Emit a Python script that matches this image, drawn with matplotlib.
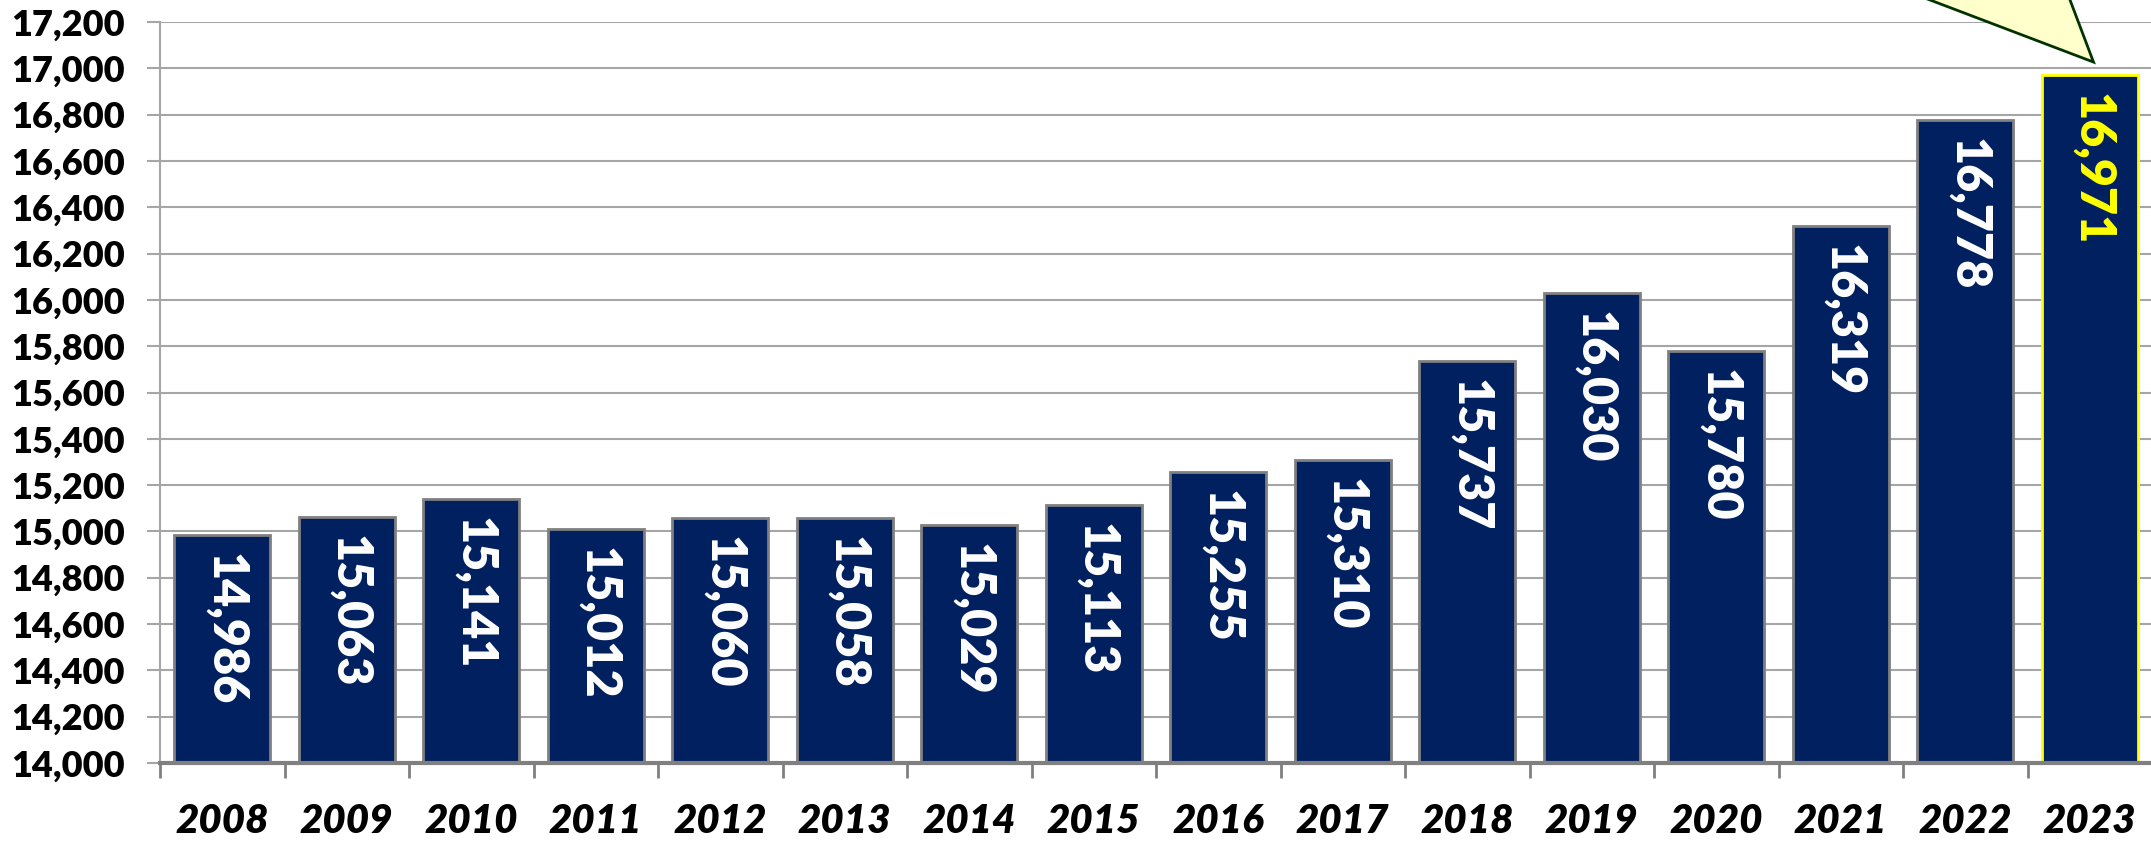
import numpy as np
import matplotlib
matplotlib.use('Agg')
from matplotlib import pyplot as plt
from matplotlib.patches import Polygon

# Dados do gráfico
anos = ['2008', '2009', '2010', '2011', '2012', '2013', '2014', '2015',
        '2016', '2017', '2018', '2019', '2020', '2021', '2022', '2023']
valores = [14986, 15063, 15141, 15012, 15060, 15058, 15029, 15113,
           15255, 15310, 15737, 16030, 15780, 16319, 16778, 16971]
y_ticks = list(range(14000, 17201, 200))

plt.rcParams['font.family'] = ['Lato', 'DejaVu Sans']

cor_barra = '#002060'
cor_borda = '#808080'
cor_grade = '#A6A6A6'

fig = plt.figure(figsize=(21.51, 8.41), dpi=100)
ax = fig.add_axes([160 / 2151, 1 - 763 / 841, 1992 / 2151, (763 - 22) / 841])

x = np.arange(len(anos))
barras = ax.bar(x, np.array(valores) - 14000, bottom=14000, width=0.77,
                color=cor_barra, edgecolor=cor_borda, linewidth=2, zorder=3)
barras[-1].set_edgecolor('#FFFF00')

# Rótulos de valor dentro das barras
for i, v in enumerate(valores):
    cor_texto = '#FFFF00' if i == len(valores) - 1 else 'white'
    ax.annotate(f'{v:,}', xy=(i, v), xytext=(2, -13), textcoords='offset points',
                rotation=270, ha='center', va='top', color=cor_texto,
                fontsize=35, fontweight='heavy', zorder=4)

ax.set_xlim(-0.5, len(anos) - 0.5)
ax.set_ylim(14000, 17200)
ax.set_yticks(y_ticks)
ax.set_yticklabels([f'{t:,}' for t in y_ticks], fontsize=26, fontweight='heavy')
ax.yaxis.grid(True, color=cor_grade, linewidth=1.5, zorder=0)
ax.tick_params(axis='y', length=9.5, width=1.5, color=cor_grade, pad=16)

ax.set_xticks(x)
ax.set_xticklabels(anos, fontsize=29, fontweight='heavy', fontstyle='italic')
ax.set_xticks(np.arange(len(anos) + 1) - 0.5, minor=True)
ax.tick_params(axis='x', which='major', length=0, pad=29)
ax.tick_params(axis='x', which='minor', length=11, width=2, color=cor_borda)

for lado in ['top', 'right']:
    ax.spines[lado].set_visible(False)
ax.spines['left'].set_color(cor_grade)
ax.spines['left'].set_linewidth(1.5)
ax.spines['bottom'].set_color(cor_borda)
ax.spines['bottom'].set_linewidth(3)
ax.spines['bottom'].set_zorder(5)

# Balão de destaque apontando para 2023
balao = Polygon([(12.87, 17468), (14.72, 17468), (15.03, 17027)], closed=True,
                facecolor='#FFFFCC', edgecolor='#003300', linewidth=2,
                clip_on=False, zorder=6)
ax.add_patch(balao)

fig.savefig('out.png', dpi=100)
